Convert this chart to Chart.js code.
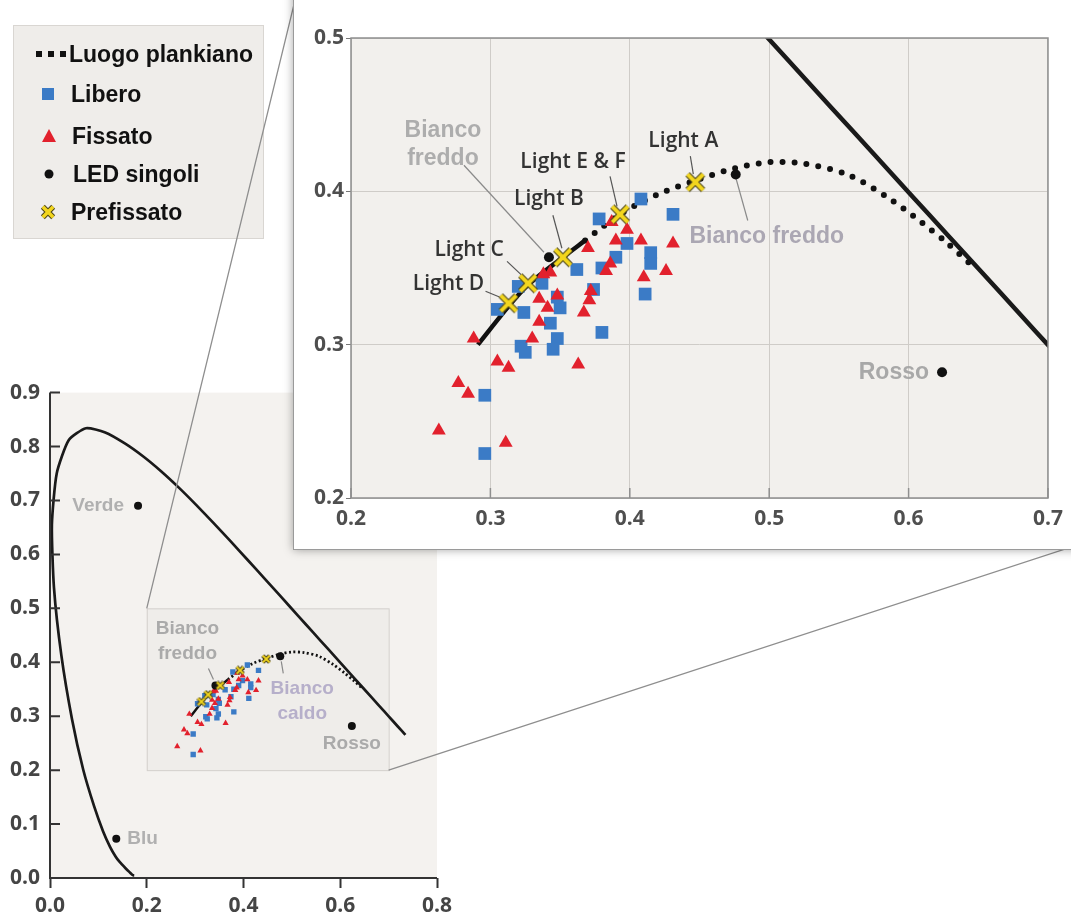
<!DOCTYPE html>
<html>
<head>
<meta charset="utf-8">
<script src="https://cdn.jsdelivr.net/npm/chart.js@4.4.1/dist/chart.umd.min.js"></script>
<style>
  body { margin: 0; width: 1071px; height: 921px; background: #fff; position: relative; overflow: hidden; }
  #legend { position: absolute; left: 13px; top: 25px; width: 249px; height: 212px; background: #efedea; border: 1px solid #d9d6d2; z-index: 0; }
  #legend canvas { position: absolute; left: 0; top: 0; }
  #legend .row { position: absolute; font: bold 23px "Liberation Sans", Arial, sans-serif; color: #111; line-height: 23px; white-space: nowrap; }
  #small { position: absolute; left: 0; top: 370px; z-index: 0; }
  #links { position: absolute; left: 0; top: 0; z-index: 1; pointer-events: none; }
  #card { position: absolute; left: 293px; top: -12px; width: 800px; height: 560px; background: #fff; border: 1px solid #9a9a9a; box-shadow: 0 0 9px rgba(0,0,0,0.35); z-index: 2; }
  #zoom { position: absolute; left: 2px; top: 11px; }
</style>
</head>
<body>
<div id="legend">
  <canvas id="legendMarks" width="60" height="212"></canvas>
  <div class="row" style="left:55px; top:17px">Luogo plankiano</div>
  <div class="row" style="left:57px; top:57px">Libero</div>
  <div class="row" style="left:58px; top:99px">Fissato</div>
  <div class="row" style="left:59px; top:137px">LED singoli</div>
  <div class="row" style="left:57px; top:175px">Prefissato</div>
</div>
<canvas id="small" width="470" height="551"></canvas>
<canvas id="links" width="1071" height="921"></canvas>
<div id="card"><canvas id="zoom" width="775" height="548"></canvas></div>

<script>
// CIE 1931 x,y values

// spectral locus (horseshoe)
const locusX = [0.1741, 0.1714, 0.1644, 0.1566, 0.1440, 0.1355, 0.1241, 0.1096, 0.0913, 0.0687, 0.0454, 0.0235, 0.0082, 0.0039, 0.0139, 0.0389, 0.0743, 0.1142, 0.1547, 0.1929, 0.2296, 0.2658, 0.3016, 0.3373, 0.3731, 0.4087, 0.4441, 0.4788, 0.5125, 0.5448, 0.5752, 0.6029, 0.6270, 0.6658, 0.6915, 0.7079, 0.7190, 0.7347];
const locusY = [0.0050, 0.0051, 0.0109, 0.0177, 0.0297, 0.0399, 0.0578, 0.0868, 0.1327, 0.2007, 0.2950, 0.4127, 0.5384, 0.6548, 0.7502, 0.8120, 0.8338, 0.8262, 0.8059, 0.7816, 0.7543, 0.7243, 0.6923, 0.6589, 0.6245, 0.5896, 0.5547, 0.5202, 0.4866, 0.4544, 0.4242, 0.3965, 0.3725, 0.3340, 0.3083, 0.2920, 0.2809, 0.2653];

// planckian locus: solid part, then dotted part
const plankSolidX = [0.291, 0.313, 0.327, 0.352, 0.368];
const plankSolidY = [0.300, 0.325, 0.339, 0.357, 0.368];
const plankDotX = [0.368, 0.393, 0.420, 0.447, 0.475, 0.500, 0.525, 0.556, 0.585, 0.609, 0.628, 0.645];
const plankDotY = [0.368, 0.385, 0.398, 0.407, 0.415, 0.419, 0.418, 0.411, 0.396, 0.380, 0.366, 0.352];

// Libero (blue squares)
const liberoX = [0.408, 0.431, 0.378, 0.398, 0.415, 0.415, 0.390, 0.380, 0.362, 0.411, 0.380, 0.374, 0.350, 0.348, 0.337, 0.320, 0.305, 0.324, 0.343, 0.348, 0.345, 0.322, 0.325, 0.296, 0.296];
const liberoY = [0.395, 0.385, 0.382, 0.366, 0.360, 0.353, 0.357, 0.350, 0.349, 0.333, 0.308, 0.336, 0.324, 0.331, 0.340, 0.338, 0.323, 0.321, 0.314, 0.304, 0.297, 0.299, 0.295, 0.267, 0.229];

// Fissato (red triangles)
const fissatoX = [0.387, 0.398, 0.408, 0.431, 0.390, 0.370, 0.386, 0.383, 0.410, 0.426, 0.372, 0.371, 0.367, 0.348, 0.341, 0.335, 0.335, 0.343, 0.338, 0.330, 0.363, 0.288, 0.305, 0.313, 0.277, 0.284, 0.263, 0.311];
const fissatoY = [0.380, 0.375, 0.368, 0.366, 0.368, 0.363, 0.353, 0.348, 0.344, 0.348, 0.335, 0.329, 0.321, 0.332, 0.324, 0.315, 0.330, 0.347, 0.346, 0.304, 0.287, 0.304, 0.289, 0.285, 0.275, 0.268, 0.244, 0.236];

// LED singoli (black dots)
const ledNames = ['Bianco freddo', 'Bianco caldo', 'Rosso', 'Verde', 'Blu'];
const ledX = [0.342, 0.476, 0.624, 0.182, 0.137];
const ledY = [0.357, 0.411, 0.282, 0.690, 0.073];

// Prefissato (yellow crosses)
const prefNames = ['Light A', 'Light E & F', 'Light B', 'Light C', 'Light D'];
const prefX = [0.447, 0.393, 0.352, 0.327, 0.313];
const prefY = [0.406, 0.385, 0.357, 0.340, 0.327];

// ticks
const smallXTicks = [0, 0.2, 0.4, 0.6, 0.8];
const smallYTicks = [0, 0.1, 0.2, 0.3, 0.4, 0.5, 0.6, 0.7, 0.8, 0.9];
const zoomXTicks = [0.2, 0.3, 0.4, 0.5, 0.6, 0.7];
const zoomYTicks = [0.2, 0.3, 0.4, 0.5];

const BLUE = '#3b7bc6';
const RED = '#e2212d';
const pts = (xs, ys) => xs.map((x, i) => ({ x, y: ys[i] }));

function crossMark(size, lw) {
  const c = document.createElement('canvas');
  c.width = c.height = size;
  const g = c.getContext('2d');
  const m = lw * 0.8;
  g.beginPath();
  g.moveTo(m, m); g.lineTo(size - m, size - m);
  g.moveTo(size - m, m); g.lineTo(m, size - m);
  g.strokeStyle = '#4b4419'; g.lineWidth = lw + 2; g.stroke();
  g.strokeStyle = '#f3d61e'; g.lineWidth = lw; g.stroke();
  return c;
}

function makeDatasets(big) {
  return [
    { data: pts(prefX, prefY), pointStyle: crossMark(big ? 22 : 10, big ? 4 : 2), order: 0 },
    { data: pts(ledX, ledY), pointStyle: 'circle', pointRadius: big ? 5 : 4, backgroundColor: '#111', borderWidth: 0, order: 1 },
    { data: pts(fissatoX, fissatoY), pointStyle: 'triangle', pointRadius: big ? 8 : 3.6, backgroundColor: RED, borderWidth: 0, order: 2 },
    { data: pts(liberoX, liberoY), pointStyle: 'rect', pointRadius: big ? 9 : 3.8, backgroundColor: BLUE, borderWidth: 0, order: 3 },
    { data: pts(plankSolidX, plankSolidY), showLine: true, pointRadius: 0, borderColor: '#111', borderWidth: big ? 4.5 : 2.5, tension: 0.3, order: 4 },
    { data: pts(plankDotX, plankDotY), showLine: true, pointRadius: 0, borderColor: '#111', borderWidth: big ? 6 : 2.8, borderDash: big ? [0, 12] : [2, 2.5], borderCapStyle: big ? 'round' : 'butt', tension: 0.3, order: 5 },
    { data: pts(locusX, locusY), showLine: true, pointRadius: 0, borderColor: '#1a1a1a', borderWidth: big ? 4.5 : 2.7, tension: 0.2, order: 6 }
  ];
}

// plot background (+ highlighted zoom window on the small chart)
const plotBg = {
  id: 'plotBg',
  beforeDraw(chart, args, o) {
    const { ctx, chartArea: a, scales: { x, y } } = chart;
    ctx.save();
    ctx.fillStyle = o.color;
    ctx.fillRect(a.left, a.top, a.right - a.left, a.bottom - a.top);
    if (o.zoom) {
      const l = x.getPixelForValue(o.zoom.x[0]), r = x.getPixelForValue(o.zoom.x[1]);
      const t = y.getPixelForValue(o.zoom.y[1]), b = y.getPixelForValue(o.zoom.y[0]);
      ctx.fillStyle = '#efedea';
      ctx.fillRect(l, t, r - l, b - t);
      ctx.strokeStyle = '#d3d0cc';
      ctx.lineWidth = 1;
      ctx.strokeRect(l + 0.5, t + 0.5, r - l, b - t);
    }
    ctx.restore();
  }
};

// frame, axis lines and inward ticks
const axesDeco = {
  id: 'axesDeco',
  afterDatasetsDraw(chart, args, o) {
    const { ctx, chartArea: a, scales: { x, y } } = chart;
    ctx.save();
    ctx.strokeStyle = o.color;
    ctx.lineWidth = o.width;
    if (o.frame) ctx.strokeRect(a.left, a.top, a.right - a.left, a.bottom - a.top);
    ctx.beginPath();
    if (o.axes) {
      ctx.moveTo(a.left, a.top); ctx.lineTo(a.left, a.bottom); ctx.lineTo(a.right, a.bottom);
    }
    if (o.inX) x.ticks.forEach(t => {
      const p = x.getPixelForValue(t.value);
      ctx.moveTo(p, a.bottom); ctx.lineTo(p, a.bottom - o.inX);
    });
    if (o.inY) y.ticks.forEach(t => {
      const p = y.getPixelForValue(t.value);
      ctx.moveTo(a.left, p); ctx.lineTo(a.left + o.inY, p);
    });
    ctx.stroke();
    ctx.restore();
  }
};

// text notes next to points, with leader lines
const noteLabels = {
  id: 'noteLabels',
  beforeDatasetsDraw(chart, args, o) {
    const { ctx, scales: { x, y } } = chart;
    ctx.save();
    ctx.lineWidth = 1.2;
    (o.items || []).forEach(it => {
      if (!it.lead) return;
      const px = x.getPixelForValue(it.at[0]), py = y.getPixelForValue(it.at[1]);
      ctx.strokeStyle = it.leadColor || '#8a8a8a';
      ctx.beginPath();
      ctx.moveTo(px + it.lead[0], py + it.lead[1]);
      ctx.lineTo(px + it.lead[2], py + it.lead[3]);
      ctx.stroke();
    });
    ctx.restore();
  },
  afterDatasetsDraw(chart, args, o) {
    const { ctx, scales: { x, y } } = chart;
    ctx.save();
    ctx.textBaseline = 'middle';
    (o.items || []).forEach(it => {
      const px = x.getPixelForValue(it.at[0]), py = y.getPixelForValue(it.at[1]);
      ctx.font = it.font;
      ctx.fillStyle = it.color;
      ctx.textAlign = it.align || 'center';
      it.lines.forEach((t, i) => ctx.fillText(t, px + it.dx, py + it.dy + i * (it.lh || 0)));
    });
    ctx.restore();
  }
};

const LIGHT_FONT = '600 21px "Open Sans", sans-serif';
const GRAY_BIG = 'bold 23px "Liberation Sans", Arial, sans-serif';
const GRAY_SMALL = 'bold 19px "Liberation Sans", Arial, sans-serif';
const TICK_FONT = { family: '"Open Sans", sans-serif', size: 21, weight: 'bold' };

const zoomNotes = [
  { at: [ledX[0], ledY[0]], lines: ['Bianco', 'freddo'], lh: 28, dx: -106, dy: -127, font: GRAY_BIG, color: '#adadad', lead: [-85, -92, -5, -5] },
  { at: [prefX[1], prefY[1]], lines: [prefNames[1]], dx: -47, dy: -52, font: LIGHT_FONT, color: '#333', lead: [-10, -38, -3, -8], leadColor: '#555' },
  { at: [prefX[2], prefY[2]], lines: [prefNames[2]], dx: -14, dy: -58, font: LIGHT_FONT, color: '#333', lead: [-10, -42, -1, -9], leadColor: '#555' },
  { at: [prefX[3], prefY[3]], lines: [prefNames[3]], dx: -59, dy: -33, font: LIGHT_FONT, color: '#333', lead: [-21, -22, -4, -6], leadColor: '#555' },
  { at: [prefX[4], prefY[4]], lines: [prefNames[4]], dx: -60, dy: -19, font: LIGHT_FONT, color: '#333', lead: [-23, -12, -6, -5], leadColor: '#555' },
  { at: [prefX[0], prefY[0]], lines: [prefNames[0]], dx: -12, dy: -41, font: LIGHT_FONT, color: '#333', lead: [-5, -26, -2, -8], leadColor: '#555' },
  { at: [ledX[1], ledY[1]], lines: ['Bianco freddo'], dx: 31, dy: 62, font: GRAY_BIG, color: '#aba7b3', lead: [0, 3, 12, 46] },
  { at: [ledX[2], ledY[2]], lines: ['Rosso'], align: 'right', dx: -13, dy: 0, font: GRAY_BIG, color: '#a8a8a8' }
];

const smallNotes = [
  { at: [ledX[3], ledY[3]], lines: ['Verde'], align: 'right', dx: -14, dy: 0, font: GRAY_SMALL, color: '#b0b0b0' },
  { at: [ledX[4], ledY[4]], lines: ['Blu'], align: 'left', dx: 11, dy: 0, font: GRAY_SMALL, color: '#b0b0b0' },
  { at: [ledX[0], ledY[0]], lines: ['Bianco', 'freddo'], lh: 25, dx: -28, dy: -57, font: GRAY_SMALL, color: '#aaaaaa', lead: [-7, -17, -2, -6] },
  { at: [ledX[1], ledY[1]], lines: ['Bianco', 'caldo'], lh: 25, dx: 22, dy: 32, font: GRAY_SMALL, color: '#b6afca', lead: [1, 5, 3, 17] },
  { at: [ledX[2], ledY[2]], lines: ['Rosso'], dx: 0, dy: 18, font: GRAY_SMALL, color: '#aaaaaa' }
];

const fmt = v => Number(v).toFixed(1);

// small full diagram
const small = new Chart(document.getElementById('small'), {
  type: 'scatter',
  data: { datasets: makeDatasets(false) },
  options: {
    responsive: false,
    animation: false,
    events: [],
    layout: { padding: { top: 18, right: 33, left: 0, bottom: 0 } },
    plugins: {
      legend: { display: false },
      tooltip: { enabled: false },
      plotBg: { color: '#f4f2ef', zoom: { x: [zoomXTicks[0], zoomXTicks[zoomXTicks.length - 1]], y: [zoomYTicks[0], zoomYTicks[zoomYTicks.length - 1]] } },
      axesDeco: { color: '#333', width: 2, axes: true, inY: 10 },
      noteLabels: { items: smallNotes }
    },
    scales: {
      x: {
        type: 'linear', min: 0, max: 0.8,
        afterBuildTicks: s => { s.ticks = smallXTicks.map(v => ({ value: v })); },
        afterFit: s => { s.height = 43; },
        ticks: { callback: fmt, font: TICK_FONT, color: '#454545', padding: 5, maxRotation: 0 },
        grid: { display: true, drawOnChartArea: false, drawTicks: true, tickLength: 10, tickColor: '#333', tickWidth: 2 },
        border: { display: false }
      },
      y: {
        type: 'linear', min: 0, max: 0.9,
        afterBuildTicks: s => { s.ticks = smallYTicks.map(v => ({ value: v })); },
        afterFit: s => { s.width = 50; },
        ticks: { callback: fmt, font: TICK_FONT, color: '#454545', padding: 10 },
        grid: { display: false, drawTicks: false },
        border: { display: false }
      }
    }
  },
  plugins: [plotBg, noteLabels, axesDeco]
});

// zoomed inset
const zoom = new Chart(document.getElementById('zoom'), {
  type: 'scatter',
  data: { datasets: makeDatasets(true) },
  options: {
    responsive: false,
    animation: false,
    events: [],
    layout: { padding: { top: 38, right: 23, left: 0, bottom: 0 } },
    plugins: {
      legend: { display: false },
      tooltip: { enabled: false },
      plotBg: { color: '#f2f0ed' },
      axesDeco: { color: '#8f8f8f', width: 1.5, frame: true, inX: 10 },
      noteLabels: { items: zoomNotes }
    },
    scales: {
      x: {
        type: 'linear', min: 0.2, max: 0.7,
        afterBuildTicks: s => { s.ticks = zoomXTicks.map(v => ({ value: v })); },
        afterFit: s => { s.height = 50; },
        ticks: { callback: fmt, font: TICK_FONT, color: '#4f4f4f', padding: 8, maxRotation: 0 },
        grid: { color: '#cfccc8', lineWidth: 1, drawTicks: false },
        border: { display: false }
      },
      y: {
        type: 'linear', min: 0.2, max: 0.5,
        afterBuildTicks: s => { s.ticks = zoomYTicks.map(v => ({ value: v })); },
        afterFit: s => { s.width = 55; },
        ticks: { callback: fmt, font: TICK_FONT, color: '#4f4f4f', padding: 2 },
        grid: { color: '#cfccc8', lineWidth: 1, tickLength: 5, tickColor: '#777' },
        border: { display: false }
      }
    }
  },
  plugins: [plotBg, noteLabels, axesDeco]
});

// legend marks
(function () {
  const g = document.getElementById('legendMarks').getContext('2d');
  g.fillStyle = '#111';
  [25, 37, 49].forEach(x => g.fillRect(x - 3, 25, 6, 6));
  g.fillStyle = BLUE; g.fillRect(28, 62, 12, 12);
  g.fillStyle = RED; g.beginPath(); g.moveTo(35, 103); g.lineTo(42, 116); g.lineTo(28, 116); g.closePath(); g.fill();
  g.fillStyle = '#111'; g.beginPath(); g.arc(35, 148, 4.5, 0, Math.PI * 2); g.fill();
  g.drawImage(crossMark(16, 3.5), 26, 178);
})();

// connector lines from the zoom window to the inset card
(function () {
  const g = document.getElementById('links').getContext('2d');
  const sBox = document.getElementById('small').getBoundingClientRect();
  const card = document.getElementById('card').getBoundingClientRect();
  const sx = small.scales.x, sy = small.scales.y;
  const l = sBox.left + sx.getPixelForValue(zoomXTicks[0]);
  const r = sBox.left + sx.getPixelForValue(zoomXTicks[zoomXTicks.length - 1]);
  const t = sBox.top + sy.getPixelForValue(zoomYTicks[zoomYTicks.length - 1]);
  const b = sBox.top + sy.getPixelForValue(zoomYTicks[0]);
  g.strokeStyle = '#8e8e8e';
  g.lineWidth = 1.3;
  g.beginPath();
  g.moveTo(l, t); g.lineTo(card.left + 5, card.top);
  g.moveTo(r, b); g.lineTo(1071, card.bottom - 3);
  g.stroke();
})();
</script>
</body>
</html>
